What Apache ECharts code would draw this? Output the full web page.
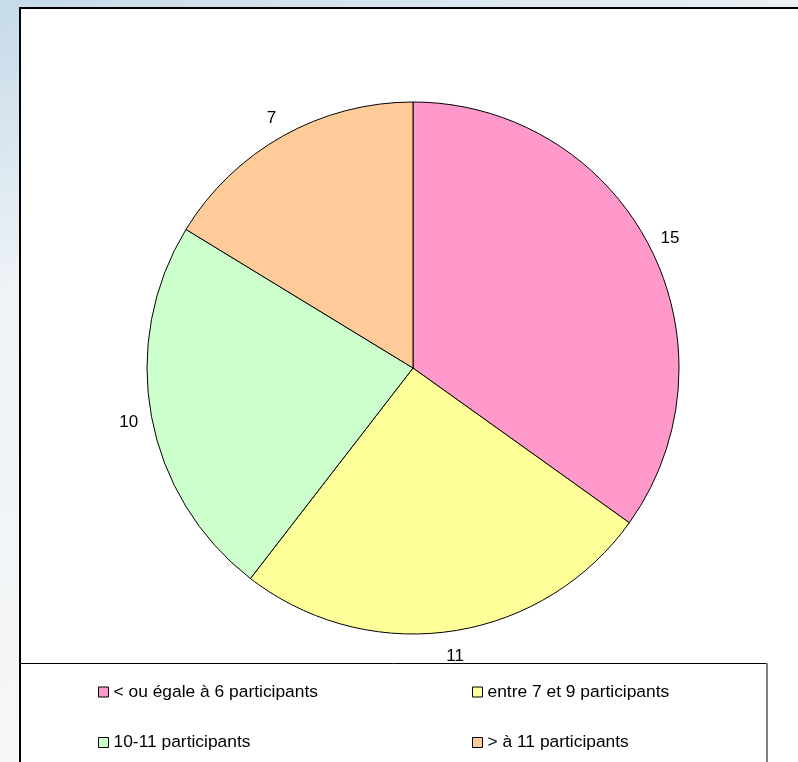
<!DOCTYPE html>
<html>
<head>
<meta charset="UTF-8">
<script src="https://cdn.jsdelivr.net/npm/echarts@6/dist/echarts.min.js"></script>
<style>
  html, body { margin: 0; padding: 0; }
  #container { width: 798px; height: 762px; }
</style>
</head>
<body>
<div id="container"></div>
<script>
// données du graphique
var categories = ['< ou égale à 6 participants', 'entre 7 et 9 participants', '10-11 participants', '> à 11 participants'];
var values = [15, 11, 10, 7];
var colors = ['#FF99CC', '#FFFF99', '#CCFFCC', '#FFCC99'];

var dom = document.getElementById('container');
var myChart = echarts.init(dom);

var pieData = categories.map(function (name, i) {
    return { name: name, value: values[i], itemStyle: { color: colors[i] } };
});
var labelData = categories.map(function (name, i) {
    return { name: name, value: values[i] };
});

// une légende par case, disposées en 2 colonnes
var legendPos = [[98, 683.5], [472, 683.5], [98, 734], [472, 734]];
var legends = categories.map(function (name, i) {
    return {
        data: [name],
        left: legendPos[i][0],
        top: legendPos[i][1],
        padding: 0,
        icon: 'rect',
        itemWidth: 10,
        itemHeight: 10,
        itemStyle: { borderColor: '#000', borderWidth: 1 },
        selectedMode: false,
        textStyle: { fontFamily: 'Liberation Sans', fontSize: 17.4, color: '#000' }
    };
});

var option = {
    backgroundColor: {
        type: 'linear', x: 0, y: 0, x2: 0.3, y2: 1,
        colorStops: [
            { offset: 0, color: '#c6dae8' },
            { offset: 0.35, color: '#eef3f7' },
            { offset: 1, color: '#f7f7f7' }
        ]
    },
    animation: false,
    graphic: [
        { type: 'rect', z: -10, shape: { x: 20, y: 8, width: 800, height: 800 },
          style: { fill: '#fff', stroke: '#000', lineWidth: 2 } },
        { type: 'line', z: -5, shape: { x1: 20, y1: 663.5, x2: 767, y2: 663.5 },
          style: { stroke: '#000', lineWidth: 1 } },
        { type: 'line', z: -5, shape: { x1: 767, y1: 663, x2: 767, y2: 770 },
          style: { stroke: '#808080', lineWidth: 2 } }
    ],
    legend: legends,
    series: [
        {
            name: 'participants',
            type: 'pie',
            center: [413, 368],
            radius: 266,
            startAngle: 90,
            label: { show: false },
            labelLine: { show: false },
            itemStyle: { borderColor: '#000', borderWidth: 1 },
            emphasis: { disabled: true },
            data: pieData
        },
        {
            // anneau invisible qui porte les étiquettes de valeur
            name: 'etiquettes',
            type: 'pie',
            center: [413, 370],
            radius: [274, 298],
            startAngle: 90,
            silent: true,
            legendHoverLink: false,
            itemStyle: { color: 'transparent', borderWidth: 0 },
            label: {
                show: true,
                position: 'inside',
                formatter: '{c}',
                color: '#000',
                fontFamily: 'Liberation Sans',
                fontSize: 17,
                padding: [7, 0, 0, 0]
            },
            labelLine: { show: false },
            emphasis: { disabled: true },
            data: labelData
        }
    ]
};
myChart.setOption(option);
</script>
</body>
</html>
